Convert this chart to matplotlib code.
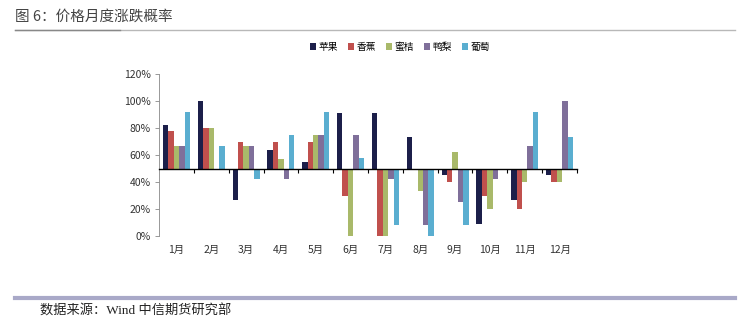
import matplotlib.pyplot as plt
import numpy as np

plt.rcParams['font.family'] = ['Noto Sans CJK SC', 'DejaVu Sans']

# 月份与品种
months = ['1月', '2月', '3月', '4月', '5月', '6月', '7月', '8月', '9月', '10月', '11月', '12月']
names = ['苹果', '香蕉', '蜜桔', '鸭梨', '葡萄']
colors = ['#1c1f4a', '#c0504d', '#a9b96a', '#7f6f9a', '#5aaed0']

# 上涨概率 (%)
apple = [82, 100, 27, 64, 55, 91, 91, 73, 45, 9, 27, 45]
banana = [78, 80, 70, 70, 70, 30, 0, 50, 40, 30, 20, 40]
orange = [67, 80, 67, 57, 75, 0, 0, 33, 62, 20, 40, 40]
pear = [67, 50, 67, 42, 75, 75, 42, 8, 25, 42, 67, 100]
grape = [92, 67, 42, 75, 92, 58, 8, 0, 8, 50, 92, 73]
series = [apple, banana, orange, pear, grape]

fig = plt.figure(figsize=(7.41, 3.25), dpi=100)
ax = fig.add_axes([159 / 741, 1 - 236 / 325, 418 / 741, 162 / 325])

x = np.arange(len(months)) + 0.5
w = 0.155
base = 0.5
for k, (vals, c, n) in enumerate(zip(series, colors, names)):
    v = np.array(vals) / 100.0
    ax.bar(x + (k - 2) * w, v - base, w, bottom=base, color=c, label=n, linewidth=0)

ax.set_xlim(0, 12)
ax.set_ylim(0, 1.2)
ax.set_yticks(np.arange(0, 1.21, 0.2))
ax.set_yticklabels([f'{int(round(t * 100))}%' for t in np.arange(0, 1.21, 0.2)], fontsize=7.5, color='#333333')
ax.tick_params(axis='y', direction='out', length=3, width=0.6, color='#888888', pad=3)

for s in ['top', 'right']:
    ax.spines[s].set_visible(False)
ax.spines['left'].set_color('#888888')
ax.spines['left'].set_linewidth(0.6)
ax.spines['bottom'].set_position(('data', base))
ax.spines['bottom'].set_color('black')
ax.spines['bottom'].set_linewidth(1.0)

ax.set_xticks(np.arange(1, 13))
ax.set_xticklabels([])
ax.tick_params(axis='x', direction='out', length=3, width=0.8, color='black')

trans = ax.get_xaxis_transform()
for xi, m in zip(x, months):
    ax.text(xi, -0.088, m, transform=trans, ha='center', va='center', fontsize=7.5, color='#333333')

leg = fig.legend(loc='center', bbox_to_anchor=(400 / 741, 1 - 47 / 325), ncol=5, frameon=False,
                 fontsize=7, handlelength=0.6, handleheight=0.6, handletextpad=0.3,
                 columnspacing=1.0)

# 标题与来源
fig.text(15 / 741, 1 - 17 / 325, '图 6：价格月度涨跌概率', fontsize=10.5, color='#444444', va='center', ha='left')
fig.add_artist(plt.Line2D([15 / 741, 735 / 741], [1 - 30 / 325, 1 - 30 / 325], color='#b8b8b8', linewidth=1))
fig.add_artist(plt.Line2D([15 / 741, 120 / 741], [1 - 30 / 325, 1 - 30 / 325], color='#888888', linewidth=1))
fig.add_artist(plt.Line2D([15 / 741, 735 / 741], [1 - 298 / 325, 1 - 298 / 325], color='#a9a9c8', linewidth=3))
fig.text(40 / 741, 1 - 311 / 325, '数据来源：Wind 中信期货研究部', fontsize=9.5, color='#222222', va='center', ha='left',
         family=['Liberation Serif', 'Noto Sans CJK SC'])

fig.savefig('out.png', dpi=100)
